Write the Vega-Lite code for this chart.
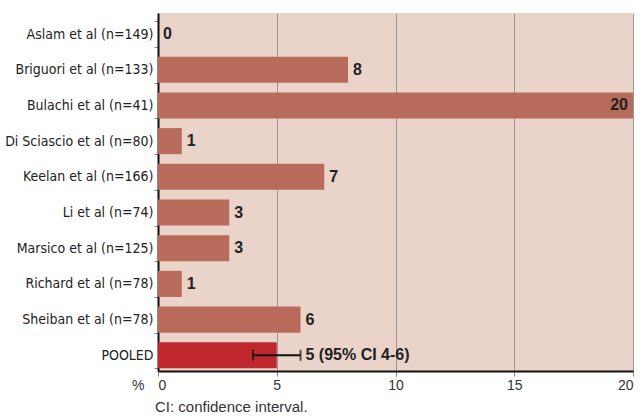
{
  "$schema": "https://vega.github.io/schema/vega-lite/v6.json",
  "width": 475,
  "height": 358,
  "autosize": {"type": "none"},
  "padding": {"left": 158, "top": 13, "right": 9, "bottom": 45},
  "background": "white",
  "title": {
    "text": "CI: confidence interval.",
    "orient": "bottom",
    "anchor": "start",
    "frame": "group",
    "offset": 8,
    "dx": -3,
    "font": "Liberation Sans",
    "fontSize": 15,
    "fontWeight": "normal",
    "color": "#333333"
  },
  "data": {
    "values": [
      {"study": "Aslam et al (n=149)", "value": 0, "label": "0", "kind": "study"},
      {"study": "Briguori et al (n=133)", "value": 8, "label": "8", "kind": "study"},
      {"study": "Bulachi et al (n=41)", "value": 20, "label": "20", "kind": "study"},
      {"study": "Di Sciascio et al (n=80)", "value": 1, "label": "1", "kind": "study"},
      {"study": "Keelan et al (n=166)", "value": 7, "label": "7", "kind": "study"},
      {"study": "Li et al (n=74)", "value": 3, "label": "3", "kind": "study"},
      {"study": "Marsico et al (n=125)", "value": 3, "label": "3", "kind": "study"},
      {"study": "Richard et al (n=78)", "value": 1, "label": "1", "kind": "study"},
      {"study": "Sheiban et al (n=78)", "value": 6, "label": "6", "kind": "study"},
      {"study": "POOLED", "value": 5, "label": "5 (95% CI 4-6)", "kind": "pooled", "lo": 4, "hi": 6}
    ]
  },
  "encoding": {
    "y": {
      "field": "study",
      "type": "nominal",
      "sort": null,
      "scale": {"paddingInner": 0.27, "paddingOuter": 0.15, "align": 0.75},
      "axis": {
        "title": null,
        "domainColor": "#111111",
        "domainWidth": 2,
        "tickBand": "extent",
        "tickColor": "#888888",
        "tickSize": 4,
        "labelPadding": 1,
        "labelFont": "DejaVu Sans Condensed",
        "labelFontSize": 14,
        "labelColor": "#222222",
        "grid": false
      }
    }
  },
  "layer": [
    {
      "mark": {"type": "bar"},
      "encoding": {
        "x": {
          "field": "value",
          "type": "quantitative",
          "scale": {"domain": [0, 20], "nice": false},
          "axis": {
            "values": [0, 5, 10, 15, 20],
            "grid": true,
            "gridColor": "#9a9a9a",
            "gridWidth": 1,
            "domainColor": "#111111",
            "domainWidth": 2,
            "tickColor": "#888888",
            "tickSize": 5,
            "labelFont": "Liberation Sans",
            "labelFontSize": 14,
            "labelColor": "#333333",
            "labelPadding": 2,
            "title": "%",
            "titleFont": "Liberation Sans",
            "titleFontSize": 14,
            "titleFontWeight": "normal",
            "titleColor": "#333333",
            "titleX": -14,
            "titleY": 7,
            "titleAlign": "right",
            "titleBaseline": "top"
          }
        },
        "color": {
          "field": "kind",
          "type": "nominal",
          "scale": {"domain": ["study", "pooled"], "range": ["#b86b5a", "#c1272e"]},
          "legend": null
        }
      }
    },
    {
      "transform": [{"filter": "datum.kind == 'pooled'"}],
      "mark": {"type": "rule", "color": "#111111", "strokeWidth": 2},
      "encoding": {
        "x": {"field": "lo", "type": "quantitative"},
        "x2": {"field": "hi"}
      }
    },
    {
      "transform": [{"filter": "datum.kind == 'pooled'"}],
      "mark": {"type": "tick", "color": "#111111", "thickness": 2, "size": 11},
      "encoding": {"x": {"field": "lo", "type": "quantitative"}}
    },
    {
      "transform": [{"filter": "datum.kind == 'pooled'"}],
      "mark": {"type": "tick", "color": "#111111", "thickness": 2, "size": 11},
      "encoding": {"x": {"field": "hi", "type": "quantitative"}}
    },
    {
      "transform": [{"filter": "datum.kind == 'study' && datum.value < 20"}],
      "mark": {"type": "text", "align": "left", "dx": 5, "font": "Liberation Sans", "fontSize": 16, "fontWeight": "bold", "color": "#222222"},
      "encoding": {
        "x": {"field": "value", "type": "quantitative"},
        "text": {"field": "label"}
      }
    },
    {
      "transform": [{"filter": "datum.kind == 'study' && datum.value >= 20"}],
      "mark": {"type": "text", "align": "right", "dx": -5, "font": "Liberation Sans", "fontSize": 16, "fontWeight": "bold", "color": "#222222"},
      "encoding": {
        "x": {"field": "value", "type": "quantitative"},
        "text": {"field": "label"}
      }
    },
    {
      "transform": [{"filter": "datum.kind == 'pooled'"}],
      "mark": {"type": "text", "align": "left", "dx": 5, "font": "Liberation Sans", "fontSize": 16, "fontWeight": "bold", "color": "#222222"},
      "encoding": {
        "x": {"field": "hi", "type": "quantitative"},
        "text": {"field": "label"}
      }
    }
  ],
  "config": {
    "view": {"fill": "#ead3c8", "stroke": null}
  }
}
